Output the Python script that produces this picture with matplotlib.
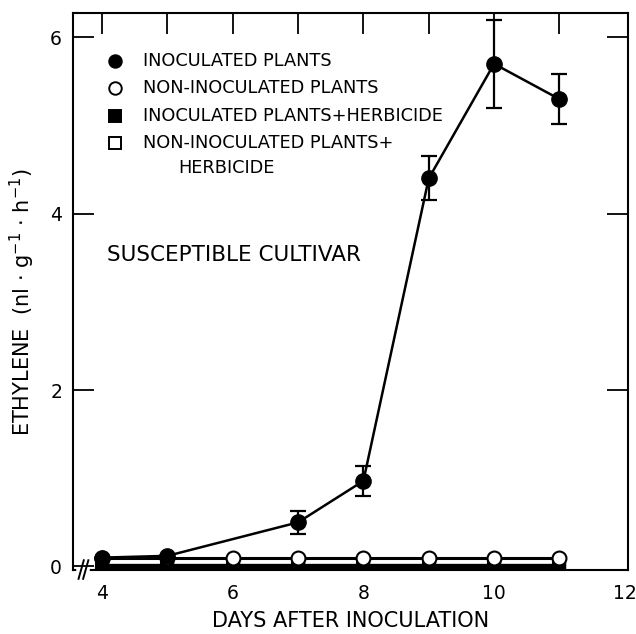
#!/usr/bin/env python3
"""Ethylene production after inoculation, susceptible cultivar."""

import matplotlib

matplotlib.use("Agg")
import matplotlib.pyplot as plt

# Days after inoculation
days = [4, 5, 6, 7, 8, 9, 10, 11]
days_inoc = [4, 5, 7, 8, 9, 10, 11]

# Ethylene (nl g-1 h-1)
inoculated = [0.1, 0.12, 0.5, 0.97, 4.4, 5.7, 5.3]
inoculated_err = [0.0, 0.0, 0.13, 0.17, 0.25, 0.5, 0.28]
non_inoculated = [0.1, 0.1, 0.1, 0.1, 0.1, 0.1, 0.1, 0.1]
inoc_herbicide = [0.02, 0.02, 0.02, 0.02, 0.02, 0.02, 0.02, 0.02]
non_inoc_herbicide = [-0.01, -0.01, -0.01, -0.01, -0.01, -0.01, -0.01, -0.01]

x_ticks = [4, 5, 6, 7, 8, 9, 10, 11, 12]
x_ticklabels = ["4", "", "6", "", "8", "", "10", "", "12"]
y_ticks = [0, 2, 4, 6]

legend_labels = [
    "INOCULATED PLANTS",
    "NON-INOCULATED PLANTS",
    "INOCULATED PLANTS+HERBICIDE",
    "NON-INOCULATED PLANTS+",
]
legend_cont = "HERBICIDE"

plt.rcParams["font.family"] = ["DejaVu Sans"]

fig = plt.figure(figsize=(6.36, 6.34), dpi=100)
ax = fig.add_axes([0.115, 0.101, 0.872, 0.879])

ms = 10
ax.plot(days, non_inoc_herbicide, "-", color="black", lw=2.4,
        marker="s", ms=ms - 1, mfc="white", mec="black", mew=1.5, zorder=3)
ax.plot(days, inoc_herbicide, "-", color="black", lw=2.4,
        marker="s", ms=ms - 1, mfc="black", mec="black", zorder=3)
ax.plot(days, non_inoculated, "-", color="black", lw=2.2,
        marker="o", ms=ms, mfc="white", mec="black", mew=1.5, zorder=4)
ax.errorbar(days_inoc, inoculated, yerr=inoculated_err, fmt="-o", color="black",
            lw=1.8, ms=ms + 1, mfc="black", capsize=6, capthick=1.6,
            elinewidth=1.6, zorder=5)

ax.set_xlim(3.557, 12.046)
ax.set_ylim(-0.04, 6.28)
ax.set_xticks(x_ticks)
ax.set_xticklabels(x_ticklabels)
ax.set_yticks(y_ticks)
ax.tick_params(direction="in", right=True, labelsize=13.5, length=15,
               width=1.3, pad=8)
ax.tick_params(axis="x", bottom=False, top=True, pad=10)
# no ticks where they would sit on the corners
ax.xaxis.get_major_ticks()[-1].tick2line.set_visible(False)
ax.yaxis.get_major_ticks()[0].tick2line.set_visible(False)
for s in ax.spines.values():
    s.set_linewidth(1.5)

ax.set_xlabel("DAYS AFTER INOCULATION", fontsize=15, labelpad=6)
ax.set_ylabel(r"ETHYLENE  (nl $\cdot$ g$^{-1}$ $\cdot$ h$^{-1}$)", fontsize=15)
ax.yaxis.set_label_coords(-0.066, 0.481)

# axis break on the bottom spine
bx = 3.67
ax.plot([bx - 0.02, bx + 0.1], [-0.04, -0.04], color="white", lw=4,
        clip_on=False, zorder=6)
for dx in (0.0, 0.07):
    ax.plot([bx - 0.03 + dx, bx + 0.05 + dx], [-0.14, 0.07], color="black",
            lw=1.4, clip_on=False, zorder=7)

# legend drawn as marker + text rows
leg_x = 0.076
leg_y = [0.914, 0.864, 0.815, 0.767]
leg_style = [
    dict(marker="o", mfc="black"),
    dict(marker="o", mfc="white"),
    dict(marker="s", mfc="black"),
    dict(marker="s", mfc="white"),
]
for y, st, lab in zip(leg_y, leg_style, legend_labels):
    ax.plot([leg_x], [y], transform=ax.transAxes, ls="none", ms=9,
            mec="black", mew=1.4, color="black", **st)
    ax.text(leg_x + 0.05, y, lab, transform=ax.transAxes, fontsize=12.8,
            va="center", ha="left")
ax.text(0.189, 0.722, legend_cont, transform=ax.transAxes, fontsize=12.8,
        va="center", ha="left")

ax.text(0.061, 0.566, "SUSCEPTIBLE CULTIVAR", transform=ax.transAxes,
        fontsize=15.5, ha="left", va="center")

fig.savefig("out.png", dpi=100)
